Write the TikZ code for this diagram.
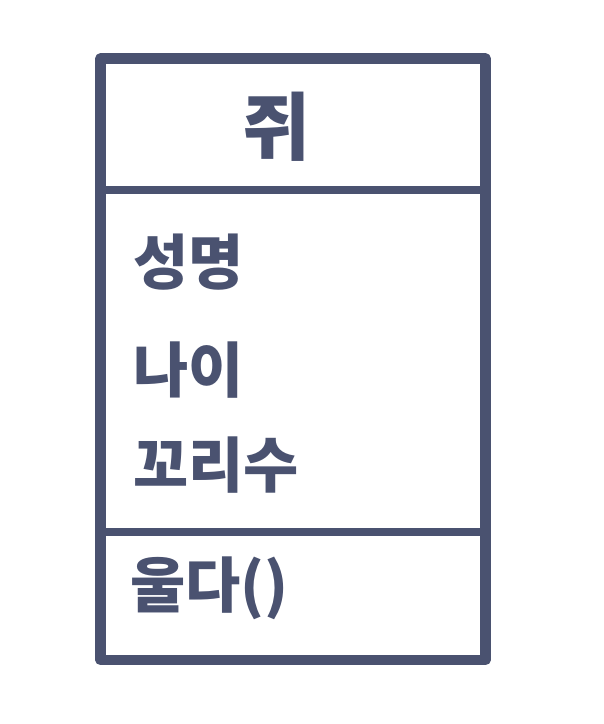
\documentclass[tikz,border=0pt]{standalone}
\usepackage{fontspec}
\newfontfamily\kfont{Noto Sans CJK KR}
\definecolor{ink}{HTML}{4A5270}
\begin{document}
\begin{tikzpicture}[x=1pt,y=-1pt,
  frame/.style={draw=ink,line width=10.5pt,line join=round,line cap=round},
  sep/.style={draw=ink,line width=8.5pt},
  title/.style={text=ink,font=\kfont\bfseries\fontsize{74}{74}\selectfont,inner sep=0pt},
  item/.style={text=ink,font=\kfont\bfseries\fontsize{60}{60}\selectfont,inner sep=0pt,anchor=west}]
\useasboundingbox (0,0) rectangle (604,724);
\coordinate (tl) at (100.5,58.5);
\coordinate (br) at (485.5,660);
\coordinate (d1l) at (100.5,190);
\coordinate (d1r) at (485.5,190);
\coordinate (d2l) at (100.5,532);
\coordinate (d2r) at (485.5,532);
\draw[sep] (d1l) -- (d1r);
\draw[sep] (d2l) -- (d2r);
\draw[frame] (tl) rectangle (br);
\node[title] (name) at (277,127) {쥐};
\node[item] (a1) at (133,262) {성명};
\node[item] (a2) at (133,370) {나이};
\node[item] (a3) at (133,465) {꼬리수};
\node[item] (m1) at (130,588) {울다()};
\end{tikzpicture}
\end{document}
